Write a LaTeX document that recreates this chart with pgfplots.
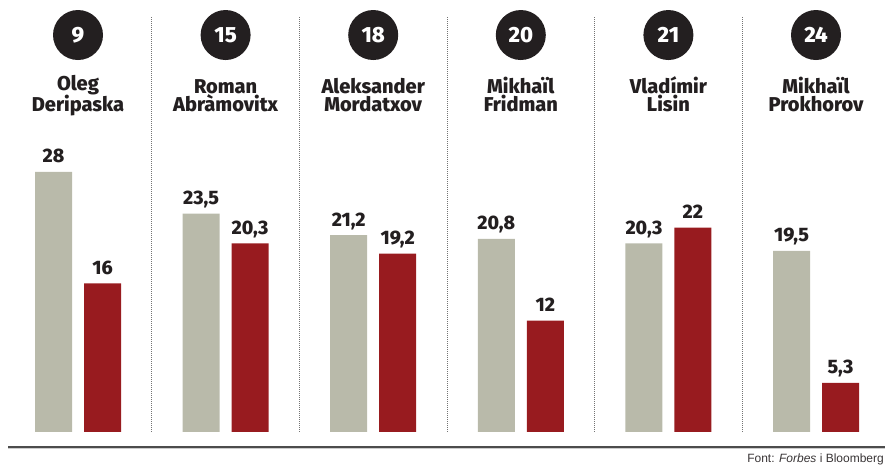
\documentclass[border=0pt]{standalone}
\usepackage{pgfplots}
\pgfplotsset{compat=1.18}
\usepackage{pgfplotstable}
\usepackage{fontspec}
\setmainfont{Liberation Sans}
\newfontfamily\heavy{Fira Sans ExtraBold}
\definecolor{barGrey}{RGB}{185,186,170}
\definecolor{barRed}{RGB}{152,27,31}
\definecolor{ink}{RGB}{35,31,32}

\pgfplotstableread{
x grey red
0 28 16
1 23.5 20.3
2 21.2 19.2
3 20.8 12
4 20.3 22
5 19.5 5.3
}\datatable

\newcommand{\group}[4]{%
  \node[circle, fill=ink, minimum size=50pt, inner sep=0pt, text=white,
        font=\heavy\fontsize{22}{22}\selectfont] at (axis cs:#1,42.73) {#2};
  \node[anchor=base, align=center, inner sep=0pt, font=\heavy\fontsize{20}{18.3}\selectfont, text=ink]
        at (axis cs:#1,34.45) {#3\\#4};
}

\begin{document}
\begin{tikzpicture}
\begin{axis}[
  at={(0,0)}, anchor=south west,
  scale only axis, width=885pt, height=466pt,
  xmin=-0.52846, xmax=5.4675, ymin=-3.66, ymax=46.50,
  hide axis, clip=false,
  ybar, bar width=37pt,
  nodes near coords={\pgfmathprintnumber[use comma,assume math mode=true]{\pgfplotspointmeta}},
  every node near coord/.append style={anchor=base, yshift=9pt, inner sep=0pt,
      font=\heavy\fontsize{19.5}{20}\selectfont, text=ink},
]
\addplot[fill=barGrey, draw=none, bar shift=-24.5pt] table[x=x,y=grey]{\datatable};
\addplot[fill=barRed, draw=none, bar shift=24.5pt] table[x=x,y=red]{\datatable};

\draw[color=gray!90!black, line width=0.9pt, dash pattern=on 1pt off 1pt] (axis cs:0.5,0) -- (axis cs:0.5,44.67);
\draw[color=gray!90!black, line width=0.9pt, dash pattern=on 1pt off 1pt] (axis cs:1.5,0) -- (axis cs:1.5,44.67);
\draw[color=gray!90!black, line width=0.9pt, dash pattern=on 1pt off 1pt] (axis cs:2.5,0) -- (axis cs:2.5,44.67);
\draw[color=gray!90!black, line width=0.9pt, dash pattern=on 1pt off 1pt] (axis cs:3.5,0) -- (axis cs:3.5,44.67);
\draw[color=gray!90!black, line width=0.9pt, dash pattern=on 1pt off 1pt] (axis cs:4.5,0) -- (axis cs:4.5,44.67);

\group{0}{9}{Oleg}{Deripaska}
\group{1}{15}{Roman}{Abràmovitx}
\group{2}{18}{Aleksander}{Mordatxov}
\group{3}{20}{Mikhaïl}{Fridman}
\group{4}{21}{Vladímir}{Lisin}
\group{5}{24}{Mikhaïl}{Prokhorov}

\draw[color=black!70, line width=1.3pt] (axis cs:-0.474,-1.615) -- (axis cs:5.4675,-1.615);
\draw[color=black!20, line width=1pt] (axis cs:-0.474,-1.76) -- (axis cs:5.4675,-1.76);

\node[anchor=base east, inner sep=0pt, font=\fontsize{12}{12}\selectfont, text=ink!90] at (axis cs:5.4607,-3.23) {Font: \textit{Forbes} i Bloomberg};
\end{axis}
\pgfresetboundingbox
\path[use as bounding box] (0,0) rectangle (885pt,466pt);
\end{tikzpicture}
\end{document}
